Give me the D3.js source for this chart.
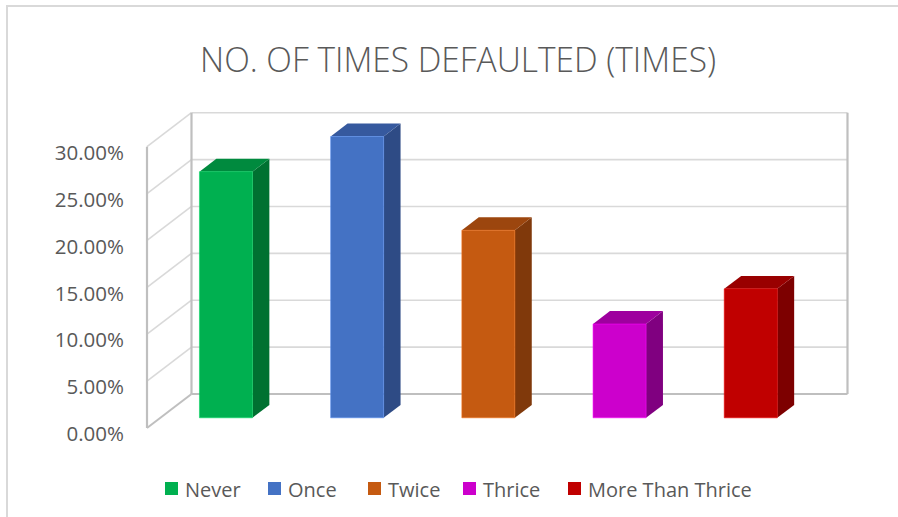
<!DOCTYPE html>
<html>
<head>
<meta charset="utf-8">
<script src="https://cdn.jsdelivr.net/npm/d3@7"></script>
<style>
  html, body { margin: 0; padding: 0; background: #fff; }
  svg { display: block; }
</style>
</head>
<body>
<svg id="chart" width="898" height="517"></svg>
<script>
// Share of respondents by number of times defaulted
const categories = ["Never", "Once", "Twice", "Thrice", "More Than Thrice"];
const shares = [0.2625, 0.30, 0.20, 0.10, 0.1375];
const tickValues = [0, 0.05, 0.10, 0.15, 0.20, 0.25, 0.30];
const tickLabels = ["0.00%", "5.00%", "10.00%", "15.00%", "20.00%", "25.00%", "30.00%"];
const frontColors = ["#00B050", "#4472C4", "#C55A11", "#CC00CC", "#C00000"];
const topColors   = ["#008A3E", "#36599E", "#9C460E", "#9E009E", "#990000"];
const sideColors  = ["#007131", "#2E4B85", "#80390B", "#800080", "#7D0000"];
const titleText = "NO. OF TIMES DEFAULTED (TIMES)";

const svg = d3.select("#chart");
const W = 898, H = 517;
const textColor = "#595959";

// Chart-area frame
svg.append("path")
  .attr("d", `M7,${H} L7,6 L${W},6`)
  .attr("fill", "none").attr("stroke", "#d9d9d9").attr("stroke-width", 2);

// Title
svg.append("text")
  .attr("x", 458).attr("y", 72)
  .attr("text-anchor", "middle")
  .attr("font-family", "'Open Sans', sans-serif")
  .attr("font-weight", 300)
  .attr("font-size", 34)
  .attr("fill", textColor)
  .attr("textLength", 516)
  .attr("lengthAdjust", "spacingAndGlyphs")
  .text(titleText);

// 3D plot frame: front plane plus an oblique depth vector
const front = { left: 147, right: 803, bottom: 428 };
const depth = { dx: 44.5, dy: -34 };
const y = d3.scaleLinear().domain([0, 0.30]).range([front.bottom, 146.7]);
const x = d3.scaleBand().domain(categories)
  .range([front.left, front.right])
  .paddingInner(0.596).paddingOuter(0.298);

const P = (px, py, t) => [px + t * depth.dx, py + t * depth.dy];
const line = d3.line();

const walls = svg.append("g");
// Side wall gridlines (diagonals)
tickValues.forEach((v, i) => {
  const a = P(front.left, y(v), 0), b = P(front.left, y(v), 1);
  walls.append("path").attr("d", line([a, b]))
    .attr("stroke", i === 0 ? "#bfbfbf" : "#d9d9d9")
    .attr("stroke-width", i === 0 ? 2 : 1.6).attr("fill", "none");
});
// Back wall gridlines
tickValues.forEach((v, i) => {
  const a = P(front.left, y(v), 1), b = P(front.right, y(v), 1);
  walls.append("path").attr("d", line([a, b]))
    .attr("stroke", i === 0 ? "#bfbfbf" : "#d9d9d9")
    .attr("stroke-width", i === 0 ? 2.2 : 1.6).attr("fill", "none");
});
// Wall verticals
[
  [P(front.left, y(0), 0), P(front.left, y(0.30), 0)],
  [P(front.left, y(0), 1), P(front.left, y(0.30), 1)],
  [P(front.right, y(0), 1), P(front.right, y(0.30), 1)]
].forEach(seg => {
  walls.append("path").attr("d", line(seg))
    .attr("stroke", "#bfbfbf").attr("stroke-width", 2.2).attr("fill", "none");
});

// Y-axis tick labels
svg.append("g").selectAll("text")
  .data(tickValues)
  .join("text")
  .attr("x", 124)
  .attr("y", d => y(d) + 6)
  .attr("dy", "0.35em")
  .attr("text-anchor", "end")
  .attr("font-family", "'Open Sans', sans-serif")
  .attr("font-size", 20.5)
  .attr("fill", textColor)
  .text((d, i) => tickLabels[i]);

// Bars (front face, top, right side)
const t0 = 0.30, t1 = 0.68;
const bars = svg.append("g");
categories.forEach((c, i) => {
  const v = shares[i];
  const xl = x(c), xr = x(c) + x.bandwidth();
  const fTL = P(xl, y(v), t0), fTR = P(xr, y(v), t0);
  const fBL = P(xl, y(0), t0), fBR = P(xr, y(0), t0);
  const bTL = P(xl, y(v), t1), bTR = P(xr, y(v), t1);
  const bBR = P(xr, y(0), t1);
  bars.append("path").attr("d", line([fTR, fBR, bBR, bTR]) + "Z")
    .attr("fill", sideColors[i]);
  bars.append("path").attr("d", line([fTL, fTR, bTR, bTL]) + "Z")
    .attr("fill", topColors[i]);
  bars.append("path").attr("d", line([fTL, fTR, fBR, fBL]) + "Z")
    .attr("fill", frontColors[i])
    .attr("stroke", d3.color(frontColors[i]).brighter(0.6))
    .attr("stroke-width", 0.8).attr("stroke-opacity", 0.7);
});

// Legend
const legendX = [165, 268, 368, 463, 568];
const legend = svg.append("g");
categories.forEach((c, i) => {
  legend.append("rect")
    .attr("x", legendX[i]).attr("y", 482)
    .attr("width", 13).attr("height", 13)
    .attr("fill", frontColors[i]);
  legend.append("text")
    .attr("x", legendX[i] + 20).attr("y", 490)
    .attr("dy", "0.35em")
    .attr("font-family", "'Open Sans', sans-serif")
    .attr("font-size", 20)
    .attr("fill", textColor)
    .text(c);
});
</script>
</body>
</html>
